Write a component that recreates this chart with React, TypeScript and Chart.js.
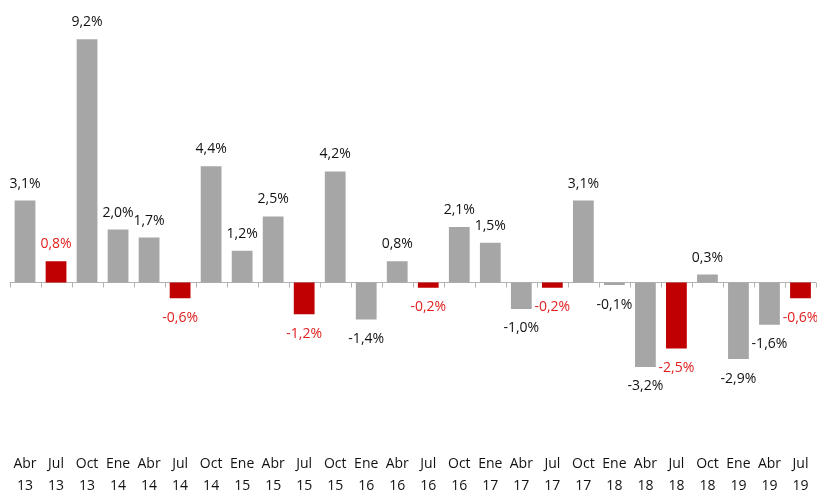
import React, { useEffect, useRef } from 'react';
import { Chart, registerables } from 'chart.js';

Chart.register(...registerables);

const months = ['Abr', 'Jul', 'Oct', 'Ene', 'Abr', 'Jul', 'Oct', 'Ene', 'Abr', 'Jul', 'Oct', 'Ene', 'Abr', 'Jul', 'Oct', 'Ene', 'Abr', 'Jul', 'Oct', 'Ene', 'Abr', 'Jul', 'Oct', 'Ene', 'Abr', 'Jul'];
const years = ['13', '13', '13', '14', '14', '14', '14', '15', '15', '15', '15', '16', '16', '16', '16', '17', '17', '17', '17', '18', '18', '18', '18', '19', '19', '19'];
const values = [3.1, 0.8, 9.2, 2.0, 1.7, -0.6, 4.4, 1.2, 2.5, -1.2, 4.2, -1.4, 0.8, -0.2, 2.1, 1.5, -1.0, -0.2, 3.1, -0.1, -3.2, -2.5, 0.3, -2.9, -1.6, -0.6];
const highlightMonth = 'Jul';

const GRAY = '#a6a6a6';
const RED = '#c00000';
const RED_TEXT = '#e02020';
const FONT = '"Open Sans", "Liberation Sans", sans-serif';

const labelsPlugin = {
  id: 'valueLabels',
  afterDatasetsDraw(chart: any) {
    const ctx = chart.ctx;
    const meta = chart.getDatasetMeta(0);
    ctx.save();
    ctx.font = `14px ${FONT}`;
    ctx.textAlign = 'center';
    ctx.textBaseline = 'middle';
    meta.data.forEach((el: any, i: number) => {
      const v = values[i];
      const txt = v.toFixed(1).replace('.', ',') + '%';
      ctx.fillStyle = months[i] === highlightMonth ? RED_TEXT : '#111111';
      const y = v >= 0 ? el.y - 17 : el.y + 19.5;
      ctx.fillText(txt, el.x, y);
    });
    ctx.restore();
  },
};

const zeroAxisPlugin = {
  id: 'zeroAxis',
  beforeDatasetsDraw(chart: any) {
    const ctx = chart.ctx;
    const { left, right } = chart.chartArea;
    const y0 = Math.round(chart.scales.y.getPixelForValue(0)) + 0.5;
    const n = months.length;
    const cw = (right - left) / n;
    ctx.save();
    ctx.strokeStyle = '#b3b3b3';
    ctx.lineWidth = 1;
    ctx.beginPath();
    ctx.moveTo(left, y0);
    ctx.lineTo(right, y0);
    for (let i = 0; i <= n; i++) {
      const x = Math.round(left + i * cw) + 0.5;
      ctx.moveTo(x, y0);
      ctx.lineTo(x, y0 + 5);
    }
    ctx.stroke();
    ctx.restore();
  },
};

export default function App() {
  const canvasRef = useRef<HTMLCanvasElement | null>(null);

  useEffect(() => {
    if (!canvasRef.current) return;
    const labels = months.map((m, i) => [m, years[i]]);
    const colors = months.map((m) => (m === highlightMonth ? RED : GRAY));
    const chart = new Chart(canvasRef.current, {
      type: 'bar',
      data: {
        labels,
        datasets: [
          {
            data: values,
            backgroundColor: colors,
            borderWidth: 0,
            barPercentage: 0.67,
            categoryPercentage: 1,
          },
        ],
      },
      options: {
        animation: false,
        responsive: true,
        maintainAspectRatio: false,
        layout: { padding: { left: 9.5, right: 1, top: 0, bottom: 0 } },
        plugins: {
          legend: { display: false },
          tooltip: { enabled: false },
        },
        scales: {
          x: {
            grid: { display: false, drawTicks: false },
            border: { display: false },
            ticks: {
              padding: 2,
              maxRotation: 0,
              autoSkip: false,
              color: '#111111',
              font: { family: FONT, size: 14, lineHeight: 1.57 },
            },
          },
          y: {
            display: false,
            min: -6.38,
            max: 10.69,
          },
        },
      },
      plugins: [zeroAxisPlugin, labelsPlugin],
    });
    return () => chart.destroy();
  }, []);

  return (
    <div style={{ position: 'fixed', left: 0, top: 0, width: 817, height: 499, background: '#fff' }}>
      <canvas ref={canvasRef} />
    </div>
  );
}
